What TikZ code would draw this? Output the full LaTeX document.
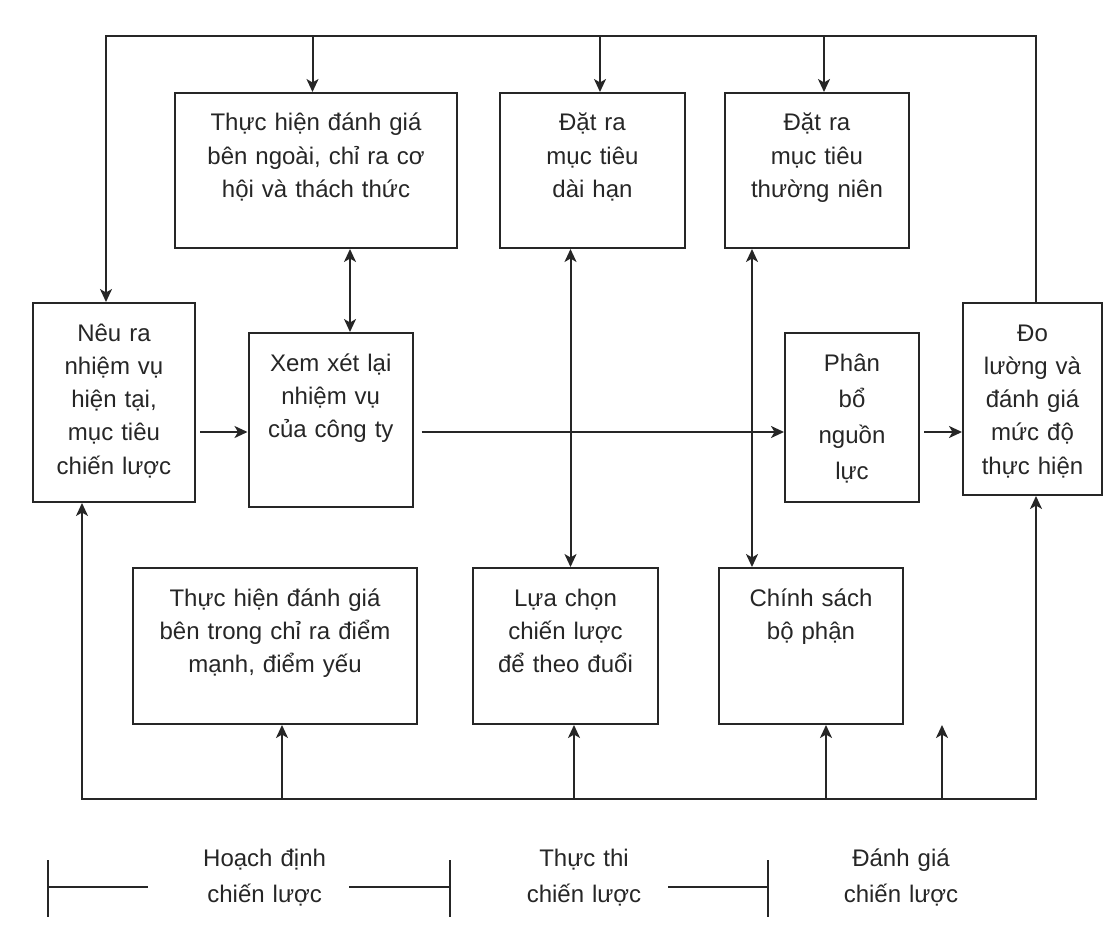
\documentclass[tikz,border=0pt]{standalone}
\usepackage{fontspec}
\setmainfont{Liberation Sans}
\usetikzlibrary{arrows.meta}

\tikzset{
    hop/.style={draw, anchor=north west, inner sep=0pt, text width=#1,
        align=center, text height=38pt},
    chu/.style={anchor=base, text width=170pt, align=center,
        font=\fontsize{24}{35.5}\selectfont},
}

\begin{document}
\begin{tikzpicture}[x=1pt, y=-1pt, line width=2pt, color=black!85,
    >={Stealth[length=13pt, width=12pt, inset=3.5pt]},
    font=\fontsize{24}{33.3}\selectfont]
    \useasboundingbox (0,0) rectangle (1103,931);

    % Các hộp hàng trên
    \node[hop=282pt, text depth=117pt] (ext) at (174,92) {Thực hiện đánh giá\\bên ngoài, chỉ ra cơ\\hội và thách thức};
    \node[hop=185pt, text depth=117pt] (dai) at (499,92) {Đặt ra\\mục tiêu\\dài hạn};
    \node[hop=184pt, text depth=117pt] (nien) at (724,92) {Đặt ra\\mục tiêu\\thường niên};

    % Hàng giữa
    \node[hop=162pt, text depth=161pt] (neu) at (32,302) {Nêu ra\\nhiệm vụ\\hiện tại,\\mục tiêu\\chiến lược};
    \node[hop=164.5pt, text depth=136pt] (xem) at (247.5,332) {Xem xét lại\\nhiệm vụ\\của công ty};
    \node[hop=134pt, text depth=131pt] (phan) at (784,332) {Phân\\[2.7pt]bổ\\[2.7pt]nguồn\\[2.7pt]lực};
    \node[hop=139pt, text depth=154pt] (do) at (962,302) {Đo\\lường và\\đánh giá\\mức độ\\thực hiện};

    % Hàng dưới
    \node[hop=284pt, text depth=118pt] (trong) at (132,567) {Thực hiện đánh giá\\bên trong chỉ ra điểm\\mạnh, điểm yếu};
    \node[hop=185pt, text depth=118pt] (chon) at (472,567) {Lựa chọn\\chiến lược\\để theo đuổi};
    \node[hop=184pt, text depth=118pt] (cs) at (718,567) {Chính sách\\bộ phận};

    % Đường phản hồi phía trên
    \coordinate (tl) at (106,36);
    \coordinate (tr) at (1036,36);
    \draw[->] (tr |- do.north) -- (tr) -- (tl) -- (tl |- neu.north);
    \coordinate (t1) at (312.5,36);
    \coordinate (t2) at (600,36);
    \coordinate (t3) at (824,36);
    \foreach \c/\b in {t1/ext, t2/dai, t3/nien}
        \draw[->] (\c) -- (\c |- \b.north);

    % Mũi tên hai chiều
    \coordinate (k1) at (350,0);
    \coordinate (k2) at (570.5,0);
    \coordinate (k3) at (752,0);
    \draw[<->] (k1 |- ext.south) -- (k1 |- xem.north);
    \draw[<->] (k2 |- dai.south) -- (k2 |- chon.north);
    \draw[<->] (k3 |- nien.south) -- (k3 |- cs.north);

    % Luồng chính
    \coordinate (hang) at (0,432);
    \draw[->, shorten <=4pt] (neu.east |- hang) -- (xem.west |- hang);
    \draw[->, shorten <=7.5pt] (xem.east |- hang) -- (phan.west |- hang);
    \draw[->, shorten <=4pt] (phan.east |- hang) -- (do.west |- hang);

    % Đường phản hồi phía dưới
    \coordinate (bl) at (82,799);
    \coordinate (br) at (1036,799);
    \draw[<->] (bl |- neu.south) -- (bl) -- (br) -- (br |- do.south);
    \coordinate (b1) at (282,799);
    \coordinate (b2) at (574,799);
    \coordinate (b3) at (826,799);
    \foreach \c/\b in {b1/trong, b2/chon, b3/cs}
        \draw[->] (\c) -- (\c |- \b.south);
    \coordinate (b4) at (942,799);
    \coordinate (f4) at (942,725);
    \draw[->] (b4) -- (f4);

    % Thước giai đoạn
    \coordinate (m0) at (47.5,887);
    \coordinate (m1) at (450,887);
    \coordinate (m2) at (768,887);
    \foreach \m in {m0,m1,m2}
        \draw ([yshift=27pt]\m) -- ([yshift=-30pt]\m);
    \draw (m0) -- (148,887);
    \draw (349,887) -- (m1);
    \draw (668,887) -- (m2);
    \node[chu] (hoach) at (264.6,866.5) {Hoạch định\\chiến lược};
    \node[chu] (thi) at (584,866.5) {Thực thi\\chiến lược};
    \node[chu] (gia) at (901,866.5) {Đánh giá\\chiến lược};
\end{tikzpicture}
\end{document}
